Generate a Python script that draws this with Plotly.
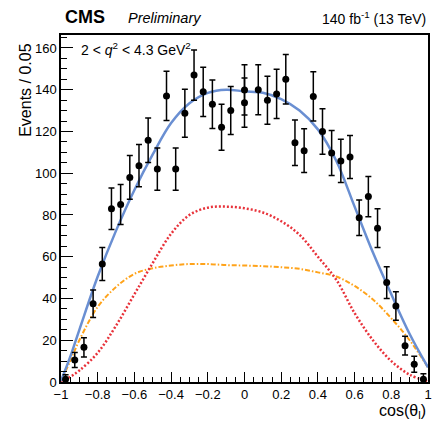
import plotly.graph_objects as go

# ---- data ----
bin_x = [-0.975, -0.925, -0.875, -0.825, -0.775, -0.725, -0.675, -0.625, -0.575, -0.525,
         -0.475, -0.425, -0.375, -0.325, -0.275, -0.225, -0.175, -0.125, -0.075, 0.0,
         0.0, 0.075, 0.125, 0.175, 0.225, 0.275, 0.325, 0.375, 0.425, 0.475,
         0.525, 0.575, 0.625, 0.675, 0.725, 0.775, 0.825, 0.875, 0.925, 0.975]
events = [1.3, 10.5, 16.6, 37.5, 56.5, 83.0, 85.0, 98.0, 103.6, 115.8,
          102.0, 137.0, 102.0, 128.7, 147.0, 139.0, 133.0, 122.0, 130.0, 139.9,
          133.8, 140.0, 135.0, 138.0, 145.0, 114.6, 110.8, 136.8, 120.0, 109.7,
          105.9, 107.8, 78.7, 88.8, 73.7, 47.6, 36.4, 17.4, 8.5, 1.3]
errors = [2.2, 3.6, 4.6, 6.6, 7.9, 9.9, 9.6, 10.5, 10.1, 10.7,
          10.1, 11.8, 10.1, 11.5, 12.0, 11.8, 11.6, 11.0, 11.5, 12.0,
          11.8, 12.0, 11.5, 11.8, 11.9, 10.9, 10.5, 11.8, 10.9, 10.8,
          10.4, 10.3, 8.5, 9.6, 9.3, 7.6, 6.8, 4.5, 3.8, 2.6]

curve_x = [-1.0, -0.95, -0.9, -0.8, -0.7, -0.6, -0.5, -0.4, -0.3, -0.2, -0.1,
           0.0, 0.1, 0.2, 0.3, 0.4, 0.5, 0.6, 0.7, 0.8, 0.9, 1.0]
total_fit = [0.5, 12.0, 25.0, 50.5, 72.5, 92.0, 109.0, 124.0, 133.5, 138.5, 140.0,
             139.2, 138.5, 135.5, 130.0, 121.0, 106.0, 84.0, 62.0, 42.0, 23.0, 7.0]
red_comp = [0.5, 2.5, 5.5, 14.0, 27.0, 42.0, 57.0, 71.0, 80.0, 83.5, 84.0,
            83.2, 81.2, 77.0, 70.5, 60.0, 49.0, 33.0, 20.0, 10.0, 3.5, 0.3]
orange_comp = [0.5, 10.0, 20.0, 36.0, 45.5, 51.8, 54.5, 55.8, 56.5, 56.5, 56.0,
               55.8, 55.5, 55.0, 54.2, 52.5, 50.5, 46.0, 39.5, 30.5, 20.0, 7.0]

x_major = [-1, -0.8, -0.6, -0.4, -0.2, 0, 0.2, 0.4, 0.6, 0.8, 1]
x_labels = ["\u22121", "\u22120.8", "\u22120.6", "\u22120.4", "\u22120.2", "0", "0.2", "0.4", "0.6", "0.8", "1"]
y_major = [0, 20, 40, 60, 80, 100, 120, 140, 160]

FONT = "Liberation Sans, Arial, Helvetica, sans-serif"

fig = go.Figure()
fig.add_trace(go.Scatter(x=curve_x, y=orange_comp, mode="lines", line_shape="spline",
                         line=dict(color="#ffa31a", width=2, dash="5px,2px,1.5px,2px"),
                         showlegend=False, hoverinfo="skip"))
fig.add_trace(go.Scatter(x=curve_x, y=red_comp, mode="lines", line_shape="spline",
                         line=dict(color="#e8323a", width=2.5, dash="2px,2px"),
                         showlegend=False, hoverinfo="skip"))
fig.add_trace(go.Scatter(x=curve_x, y=total_fit, mode="lines", line_shape="spline",
                         line=dict(color="#6a8fd2", width=2.5),
                         showlegend=False, hoverinfo="skip"))
fig.add_trace(go.Scatter(x=bin_x, y=events, mode="markers",
                         marker=dict(color="black", size=7),
                         error_y=dict(type="data", array=errors, color="black", thickness=1.5, width=3),
                         showlegend=False))

fig.update_layout(
    width=440, height=424,
    margin=dict(l=61, r=8, t=35, b=42),
    paper_bgcolor="white", plot_bgcolor="white",
    font=dict(family=FONT, color="black", size=13),
    xaxis=dict(range=[-1, 1], tickvals=x_major, ticktext=x_labels, ticks="inside",
               ticklen=10, tickwidth=1, tickcolor="black",
               minor=dict(dtick=0.05, ticks="inside", ticklen=5, tickwidth=1, tickcolor="black", tick0=0),
               showline=True, linecolor="black", linewidth=1.5, mirror=True,
               showgrid=False, zeroline=False, tickfont=dict(size=13)),
    yaxis=dict(range=[0, 166.2], tickvals=y_major, ticks="inside",
               ticklen=12, tickwidth=1, tickcolor="black",
               minor=dict(dtick=5, ticks="inside", ticklen=6, tickwidth=1, tickcolor="black", tick0=0),
               showline=True, linecolor="black", linewidth=1.5, mirror=True,
               showgrid=False, zeroline=False, tickfont=dict(size=13)),
)

fig.add_annotation(text="<b>CMS</b>", xref="paper", yref="paper", x=0.005, y=1.053,
                   xanchor="left", yanchor="middle", showarrow=False, font=dict(size=18))
fig.add_annotation(text="<i>Preliminary</i>", xref="paper", yref="paper", x=0.178, y=1.05,
                   xanchor="left", yanchor="middle", showarrow=False, font=dict(size=14.5))
fig.add_annotation(text="140 fb<sup>-1</sup> (13 TeV)", xref="paper", yref="paper", x=1.0, y=1.05,
                   xanchor="right", yanchor="middle", showarrow=False, font=dict(size=14))
fig.add_annotation(text="2 &lt; <i>q</i><sup>2</sup> &lt; 4.3 GeV<sup>2</sup>", xref="paper", yref="paper",
                   x=0.05, y=0.96, xanchor="left", yanchor="middle", showarrow=False, font=dict(size=14))
fig.add_annotation(text="Events / 0.05", xref="paper", yref="paper", x=-0.097, y=0.98,
                   xanchor="center", yanchor="top", textangle=-90, showarrow=False, font=dict(size=16))
fig.add_annotation(text="cos(\u03b8<sub>l</sub>)", xref="paper", yref="paper", x=1.0, y=-0.1195,
                   xanchor="right", yanchor="bottom", showarrow=False, font=dict(size=16))

fig.write_html("out.html")
